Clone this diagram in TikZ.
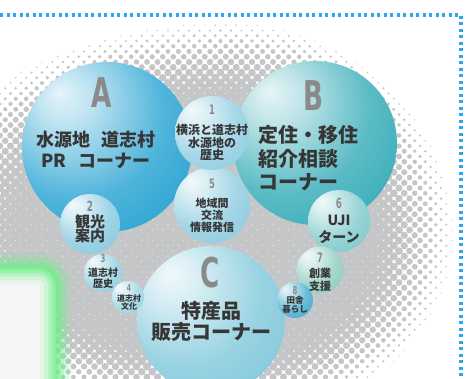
\documentclass[tikz,border=0pt]{standalone}
\usepackage{fontspec}
\usepackage{graphicx}
\newfontfamily\jp{Noto Sans CJK JP}
\newfontfamily\cond{DejaVu Sans}

\definecolor{txt}{HTML}{363636}
\definecolor{lettergray}{HTML}{8A8A8A}
\definecolor{dotgray}{HTML}{C4C6C8}
\definecolor{framblue}{HTML}{2DA5F0}
\definecolor{glowgreen}{HTML}{6CF088}
\definecolor{colA}{HTML}{25A2D2}
\definecolor{colB}{HTML}{33ABB7}
\definecolor{colC}{HTML}{80C8DB}
\definecolor{col1}{HTML}{8FCDE2}
\definecolor{col5}{HTML}{8CCBE0}
\definecolor{col2}{HTML}{86C9DF}
\definecolor{col3}{HTML}{92D0E3}
\definecolor{col4}{HTML}{9AD3E4}
\definecolor{col6}{HTML}{7FC9CD}
\definecolor{col7}{HTML}{8ECCC0}
\definecolor{col8}{HTML}{45ABCD}

\colorlet{bubcol}{cyan}
\pgfdeclareradialshading[bubcol]{bubble}{\pgfpoint{-14bp}{16bp}}{%
  color(0bp)=(bubcol!12!white); color(8bp)=(bubcol!30!white);
  color(26bp)=(bubcol!80!white); color(42bp)=(bubcol);
  color(56bp)=(bubcol!88!black); color(80bp)=(bubcol!88!black)}

\tikzset{
  bubble/.style={circle, inner sep=0pt, shade, shading=bubble},
  bubcolor/.style={/utils/exec={\colorlet{bubcol}{#1}}},
  letter/.style={text=lettergray, inner sep=0pt, font=\cond\bfseries\fontsize{#1}{#1}\selectfont},
  lbl/.style={text=txt, inner sep=0pt, align=center, font=\jp\bfseries},
}
\newcommand\narrow[1]{\scalebox{0.64}[1]{#1}}

\begin{document}
\begin{tikzpicture}[x=1pt, y=-1pt]
  \useasboundingbox (0,0) rectangle (471,378);
  \fill[white] (0,0) rectangle (471,378);

  % halftone behind the bubbles
  \foreach \j in {0,...,69}{
    \foreach \i in {0,...,44}{
      \pgfmathsetmacro\dx{\i*10.5+mod(\j,2)*5.25}
      \pgfmathsetmacro\dy{\j*5.25+20}
      \pgfmathsetmacro\rx{\dx<228 ? 330 : 228}
      \pgfmathsetmacro\ry{\dy<235 ? 215 : 190}
      \pgfmathsetmacro\dd{sqrt(((\dx-228)/\rx)^2+((\dy-235)/\ry)^2)}
      \pgfmathsetmacro\dr{\dd<0.985 ? 4.95*min(1,(max(1-\dd,0.001)/0.35)^0.7) : 0}
      \ifdim\dr pt>0.35pt
        \fill[dotgray] (\dx,\dy) circle[radius=\dr pt];
      \fi
    }
  }

  % green box
  \fill[gray!7, rounded corners=18] (-30,268) -- (56,268) -- (56,400) -- (-30,400) -- cycle;
  \foreach \w/\o in {32/0.12, 24/0.18, 16/0.26, 10/0.34, 5/0.45}
    \draw[glowgreen, line width=\w, opacity=\o, rounded corners=18] (-30,268) -- (56,268) -- (56,400);

  % frame
  \draw[framblue, line width=3.3, dash pattern=on 3.3 off 3.2] (0,15) -- (461,15) -- (461,380);

  % bubbles
  \node[bubble, bubcolor=colA, minimum size=170pt] (A) at (107,147) {};
  \node[bubble, bubcolor=colB, minimum size=164pt] (B) at (315,143) {};
  \node[bubble, bubcolor=colC, minimum size=148pt] (C) at (211,320) {};
  \node[bubble, bubcolor=col5, minimum size=76pt] (b5) at (212,205) {};
  \node[bubble, bubcolor=col1, minimum size=74pt] (b1) at (212,133) {};
  \node[bubble, bubcolor=col2, minimum size=60pt] (b2) at (90,224) {};
  \node[bubble, bubcolor=col3, minimum size=38pt] (b3) at (103,273) {};
  \node[bubble, bubcolor=col4, minimum size=32pt] (b4) at (128,297) {};
  \node[bubble, bubcolor=col6, minimum size=62pt] (b6) at (339,221) {};
  \node[bubble, bubcolor=col7, minimum size=47pt] (b7) at (320,270) {};
  \node[bubble, bubcolor=col8, minimum size=36pt] (b8) at (295,300) {};

  % labels
  \node[letter=41] (A-letter) at (102,93) {\narrow{A}};
  \node[lbl, font=\jp\bfseries\fontsize{18}{21}\selectfont] (A-text) at (96,150)
    {水源地\hspace{0.6em}道志村\\PR\hspace{0.7em}コーナー};
  \node[letter=41] (B-letter) at (313,96) {\narrow{B}};
  \node[lbl, align=left, anchor=west, font=\jp\bfseries\fontsize{20}{23.5}\selectfont] (B-text) at (258,158.5)
    {定住・移住\\紹介相談\\コーナー};
  \node[letter=41] (C-letter) at (210,273) {\narrow{C}};
  \node[lbl, font=\jp\bfseries\fontsize{20}{21}\selectfont] (C-text) at (211,321)
    {特産品\\販売コーナー};

  \node[letter=13] (n1) at (212,110) {\narrow{1}};
  \node[lbl, font=\jp\bfseries\fontsize{12}{12.8}\selectfont] (t1) at (212,142.5)
    {横浜と道志村\\水源地の\\歴史};
  \node[letter=13] (n5) at (212,184) {\narrow{5}};
  \node[lbl, font=\jp\bfseries\fontsize{11}{12}\selectfont] (t5) at (212,215)
    {地域間\\交流\\情報発信};
  \node[letter=14] (n2) at (90,206) {\narrow{2}};
  \node[lbl, font=\jp\bfseries\fontsize{15}{14.5}\selectfont] (t2) at (90,229)
    {観光\\案内};
  \node[letter=11] (n3) at (103,258) {\narrow{3}};
  \node[lbl, font=\jp\bfseries\fontsize{10}{10.5}\selectfont] (t3) at (103,278)
    {道志村\\歴史};
  \node[letter=9.5] (n4) at (129,288) {\narrow{4}};
  \node[lbl, font=\jp\bfseries\fontsize{8}{8}\selectfont] (t4) at (129,302)
    {道志村\\文化};
  \node[letter=14] (n6) at (339,203) {\narrow{6}};
  \node[lbl, font=\jp\bfseries\fontsize{14}{17}\selectfont] (t6) at (339,229)
    {UJI\\ターン};
  \node[letter=13] (n7) at (320,258) {\narrow{7}};
  \node[lbl, font=\jp\bfseries\fontsize{11}{13}\selectfont] (t7) at (320,280)
    {創業\\支援};
  \node[letter=11] (n8) at (295,290) {\narrow{8}};
  \node[lbl, font=\jp\bfseries\fontsize{8.5}{9}\selectfont] (t8) at (295,304.5)
    {田舎\\暮らし};
\end{tikzpicture}
\end{document}
